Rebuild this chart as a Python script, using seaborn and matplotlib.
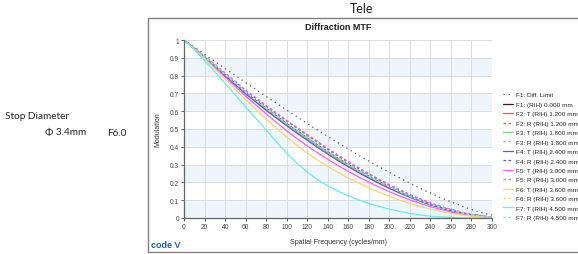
import numpy as np
import pandas as pd
import matplotlib
matplotlib.use('Agg')
import matplotlib.pyplot as plt
import seaborn as sns

# spatial frequency samples (cycles/mm)
freq = list(range(0, 301, 10))

# modulation values
diff_limit = [1, .960, .920, .880, .840, .801, .761, .722, .683, .645, .606, .569, .531, .494, .458, .423,
              .388, .353, .320, .287, .256, .225, .196, .167, .141, .114, .091, .068, .048, .030, .017]
f1 = [1, .953, .905, .855, .805, .755, .705, .660, .615, .572, .530, .490, .450, .410, .372, .335,
      .300, .266, .234, .203, .174, .147, .122, .099, .078, .060, .044, .030, .019, .011, .005]
f2_t = [1, .952, .904, .853, .803, .752, .702, .657, .611, .568, .526, .486, .446, .406, .368, .331,
        .296, .263, .231, .200, .171, .145, .120, .097, .077, .059, .043, .029, .018, .010, .005]
f2_r = [1, .954, .907, .859, .811, .763, .714, .670, .626, .584, .543, .503, .463, .423, .385, .347,
        .311, .277, .244, .213, .183, .155, .128, .104, .082, .063, .046, .032, .020, .011, .005]
f3_t = [1, .952, .904, .854, .804, .754, .703, .658, .613, .570, .528, .488, .448, .408, .370, .333,
        .298, .264, .232, .201, .172, .146, .121, .098, .077, .059, .043, .029, .018, .010, .005]
f3_r = [1, .955, .908, .860, .812, .765, .716, .672, .628, .587, .545, .506, .466, .426, .387, .350,
        .313, .279, .246, .215, .184, .156, .129, .105, .083, .064, .047, .032, .020, .011, .005]
f4_t = [1, .951, .902, .850, .799, .748, .697, .651, .605, .561, .518, .477, .437, .397, .359, .322,
        .288, .255, .224, .194, .166, .140, .116, .094, .074, .057, .041, .028, .017, .009, .004]
f4_r = [1, .955, .908, .861, .813, .766, .717, .674, .630, .589, .547, .508, .468, .428, .389, .352,
        .315, .281, .248, .216, .186, .158, .131, .106, .084, .064, .047, .032, .020, .011, .005]
f5_t = [1, .950, .900, .846, .792, .738, .685, .635, .585, .537, .490, .447, .405, .367, .330, .295,
        .262, .231, .202, .174, .148, .124, .102, .082, .064, .048, .034, .023, .014, .008, .004]
f5_r = [1, .956, .909, .862, .815, .767, .719, .676, .632, .591, .549, .510, .470, .430, .391, .354,
        .317, .283, .249, .218, .187, .159, .132, .107, .085, .065, .048, .033, .021, .012, .005]
f6_t = [1, .948, .895, .838, .780, .722, .665, .609, .555, .504, .455, .409, .365, .326, .290, .256,
        .225, .197, .170, .145, .122, .101, .082, .065, .050, .037, .026, .018, .011, .006, .003]
f6_r = [1, .954, .906, .857, .808, .759, .709, .664, .619, .577, .535, .495, .455, .415, .376, .339,
        .302, .268, .236, .205, .175, .149, .122, .099, .077, .059, .042, .029, .018, .010, .005]
f7_t = [1, .945, .885, .822, .757, .691, .625, .560, .495, .428, .365, .308, .258, .216, .181, .151,
        .125, .102, .082, .065, .050, .037, .026, .017, .010, .006, .003, .001, 0, 0, 0]
f7_r = [1, .953, .905, .856, .806, .756, .706, .661, .616, .573, .531, .491, .451, .411, .373, .336,
        .301, .267, .235, .204, .175, .148, .122, .099, .078, .060, .044, .030, .019, .011, .005]

labels = ['F1: Diff. Limit', 'F1: (RIH) 0.000 mm',
          'F2: T (RIH) 1.200 mm', 'F2: R (RIH) 1.200 mm',
          'F3: T (RIH) 1.800 mm', 'F3: R (RIH) 1.800 mm',
          'F4: T (RIH) 2.400 mm', 'F4: R (RIH) 2.400 mm',
          'F5: T (RIH) 3.000 mm', 'F5: R (RIH) 3.000 mm',
          'F6: T (RIH) 3.600 mm', 'F6: R (RIH) 3.600 mm',
          'F7: T (RIH) 4.500 mm', 'F7: R (RIH) 4.500 mm']
series = [diff_limit, f1, f2_t, f2_r, f3_t, f3_r, f4_t, f4_r,
          f5_t, f5_r, f6_t, f6_r, f7_t, f7_r]
colors = ['#555555', '#3a1a1a', '#ff4a4a', '#ff4a4a', '#7fd27f', '#7fd27f',
          '#5a5ae0', '#5a5ae0', '#ff5cff', '#ff5cff', '#f5d76a', '#f5d76a',
          '#5ef0f0', '#5ef0f0']
styles = [(0, (1, 3)), '-', '-', (0, (2, 2)), '-', (0, (2, 2)), '-', (0, (2, 2)),
          '-', (0, (2, 2)), '-', (0, (2, 2)), '-', (0, (2, 2))]

sns.set_style('white')
plt.rcParams['font.family'] = ['Liberation Sans', 'DejaVu Sans']

fig = plt.figure(figsize=(5.78, 2.55), dpi=100)
ax = fig.add_axes([184 / 578, 1 - 219 / 255, 308 / 578, 178 / 255])

# alternating bands
for i in range(0, 10, 2):
    ax.axhspan(i / 10, i / 10 + 0.1, color='#eef5fc', zorder=0, lw=0)

for lab, vals, c, ls in zip(labels, series, colors, styles):
    sns.lineplot(x=freq, y=vals, ax=ax, color=c, linestyle=ls, lw=0.9, label=lab)

ax.set_xlim(0, 300)
ax.set_ylim(0, 1)
ax.set_xticks(range(0, 301, 20))
ax.set_yticks(np.arange(0, 1.01, 0.1))
ax.set_yticklabels(['0', '0.1', '0.2', '0.3', '0.4', '0.5', '0.6', '0.7', '0.8', '0.9', '1'])
ax.grid(True, color='#dcdcdc', lw=0.7)
ax.set_axisbelow(True)
for s in ['top', 'right']:
    ax.spines[s].set_visible(False)
for s in ['left', 'bottom']:
    ax.spines[s].set_color('#666666')
    ax.spines[s].set_linewidth(0.9)
ax.tick_params(labelsize=4.8, colors='#444444', length=2, width=0.6, pad=1.5, direction='out',
               bottom=True, left=True)
ax.set_xlabel('Spatial Frequency (cycles/mm)', fontsize=5, color='#333333', labelpad=6)
ax.set_ylabel('Modulation', fontsize=5, color='#333333', labelpad=6)
ax.set_title('Diffraction MTF', fontsize=6.5, fontweight='bold', color='#222222', pad=8)

handles, labs = ax.get_legend_handles_labels()
ax.get_legend().remove()
fig.legend(handles, labs, loc='upper left', bbox_to_anchor=(503 / 578, 1 - 93 / 255),
           frameon=False, fontsize=4.6, handlelength=1.6, handletextpad=0.4,
           labelspacing=0.62, borderpad=0, borderaxespad=0)

# frame lines of the slide
line_c = '#808080'
fig.add_artist(plt.Line2D([148 / 578, 148 / 578], [1 - 253 / 255, 1 - 19 / 255], color=line_c, lw=1))
fig.add_artist(plt.Line2D([148 / 578, 1], [1 - 19 / 255, 1 - 19 / 255], color=line_c, lw=1))
fig.add_artist(plt.Line2D([148 / 578, 1], [1 - 253 / 255, 1 - 253 / 255], color=line_c, lw=1))

txt_font = ['Lato', 'DejaVu Sans']
fig.text(362 / 578, 1 - 9 / 255, 'Tele', ha='center', va='center', fontsize=9,
         family=txt_font, color='#222222')
fig.text(5 / 578, 1 - 117 / 255, 'Stop Diameter', ha='left', va='center', fontsize=7.2,
         family=txt_font, color='#222222')
fig.text(45 / 578, 1 - 133 / 255, 'Φ 3.4mm', ha='left', va='center', fontsize=7.2,
         family=txt_font, color='#222222')
fig.text(107 / 578, 1 - 133 / 255, 'F6.0', ha='left', va='center', fontsize=7.2,
         family=txt_font, color='#222222')
fig.text(151 / 578, 1 - 246 / 255, 'code V', ha='left', va='center', fontsize=6.5,
         fontweight='bold', color='#1f5fb0')

fig.savefig('out.png', dpi=100)
